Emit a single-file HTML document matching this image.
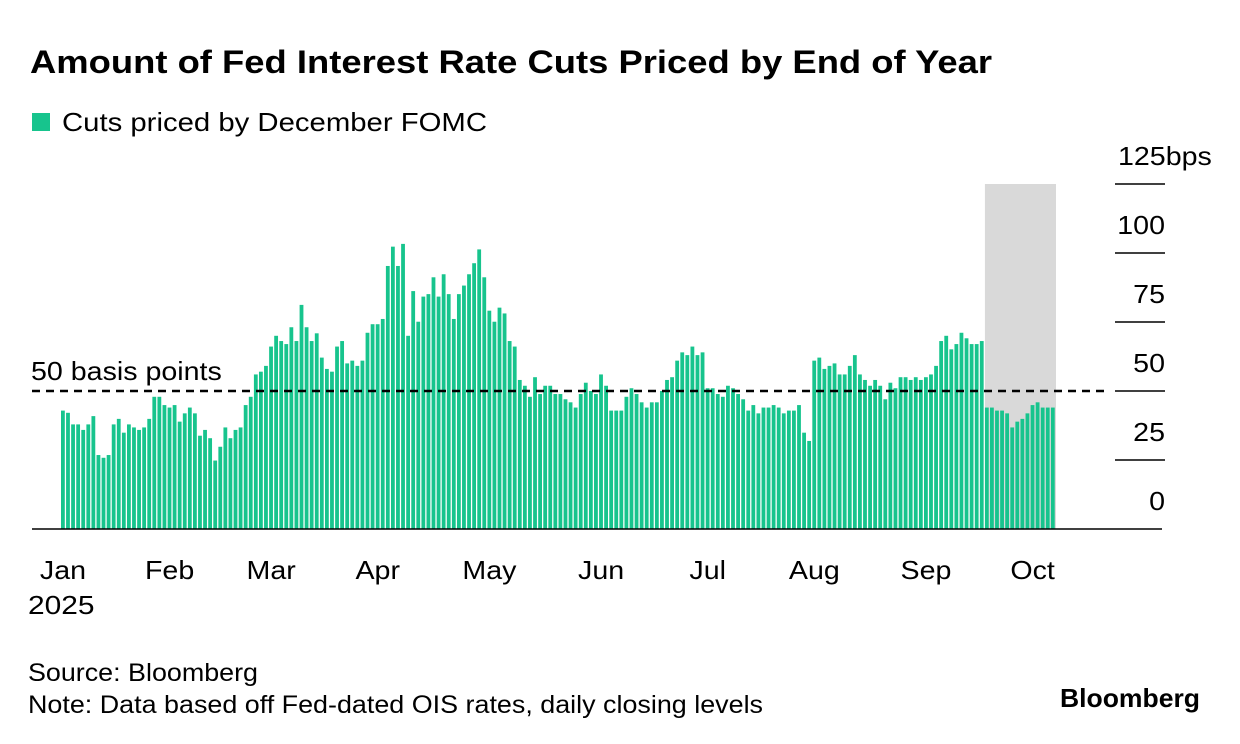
<!DOCTYPE html>
<html><head><meta charset="utf-8">
<style>
body{margin:0;background:#fff;width:1240px;height:744px;overflow:hidden;font-family:"Liberation Sans",Arial,sans-serif;color:#000}
svg{position:absolute;left:0;top:0}
</style></head><body>
<svg width="1240" height="744">
<text x="30" y="73" font-size="32" font-weight="bold" textLength="962" lengthAdjust="spacingAndGlyphs">Amount of Fed Interest Rate Cuts Priced by End of Year</text>
<rect x="32" y="113" width="18" height="18" fill="#17c48d"/>
<text x="62" y="131" font-size="26" textLength="425" lengthAdjust="spacingAndGlyphs">Cuts priced by December FOMC</text>
<g id="plot"></g>
<text x="28" y="681" font-size="25" textLength="230" lengthAdjust="spacingAndGlyphs">Source: Bloomberg</text>
<text x="28" y="713" font-size="25" textLength="735" lengthAdjust="spacingAndGlyphs">Note: Data based off Fed-dated OIS rates, daily closing levels</text>
<text x="1060" y="707" font-size="26" font-weight="bold" textLength="140" lengthAdjust="spacingAndGlyphs">Bloomberg</text>
</svg>
<script>
const values=[42.9,42.1,37.9,37.9,35.9,37.9,40.9,26.8,25.8,26.8,37.9,39.9,34.9,37.9,36.8,35.9,36.8,39.9,47.9,47.9,44.9,44.0,44.9,38.9,41.9,44.0,41.9,33.8,35.9,32.9,24.8,29.8,36.8,32.9,35.9,36.8,44.9,47.9,56.0,57.0,59.1,66.1,70.0,68.1,67.0,73.1,68.1,81.2,73.1,68.1,
70.9,62.1,58.0,57.0,66.1,68.1,60.0,61.0,59.1,61.0,71.1,74.2,74.2,76.1,95.3,102.3,95.3,103.3,70.0,86.2,75.1,84.2,85.1,91.2,84.2,92.3,85.1,76.1,85.1,88.2,92.3,96.3,101.3,91.2,79.1,75.1,80.2,78.1,68.1,66.1,54.0,51.9,47.9,55.0,48.9,51.9,51.9,48.9,48.9,
47.0,45.9,44.0,48.9,53.0,50.0,48.9,56.0,51.9,42.9,42.9,42.9,47.9,51.0,48.9,45.9,44.0,45.9,45.9,50.0,54.0,55.0,61.0,64.0,63.0,66.1,63.0,64.0,51.0,51.0,48.9,47.9,51.9,51.0,48.9,47.0,42.9,44.9,41.9,44.0,44.0,44.9,44.0,41.9,42.9,42.9,44.9,34.9,31.9,61.0,
62.1,58.0,59.1,60.0,56.0,56.0,59.1,63.0,56.0,54.0,51.9,54.0,51.9,47.0,53.0,51.0,55.0,55.0,54.0,55.0,54.0,55.0,56.0,59.1,68.1,70.0,65.1,67.0,71.1,69.1,67.0,67.0,68.1,44.0,44.0,42.9,42.9,41.9,36.8,38.9,39.9,41.9,44.9,45.9,44.0,44.0,44.0];
const monthLabels=["Jan","Feb","Mar","Apr","May","Jun","Jul","Aug","Sep","Oct"];
const monthIndex=[0,21,41,62,84,106,127,148,170,191];
const yTicks=[0,25,50,75,100,125];
const shadeStart=182;
const refLevel=50;

const NS="http://www.w3.org/2000/svg";
const g=document.getElementById('plot');
const x0=61,x1=1056,y0=529,yTop=184,yMax=125;
const pitch=(x1-x0)/values.length;
const xs=i=>x0+i*pitch;
const ys=v=>y0-v/yMax*(y0-yTop);
function mk(t,a){const e=document.createElementNS(NS,t);for(const k in a)e.setAttribute(k,a[k]);g.appendChild(e);return e;}
function widen(t,f){const w=t.getComputedTextLength();t.setAttribute('textLength',w*f);t.setAttribute('lengthAdjust','spacingAndGlyphs');}

const sh=mk('rect',{x:xs(shadeStart),y:yTop,width:x1-xs(shadeStart),height:y0-yTop,fill:'#d9d9d9'});



values.forEach((v,i)=>{
 const r=mk('rect',{x:xs(i),y:ys(v),width:pitch*0.75,height:y0-ys(v),fill:'#17c48d'});
 
 
});

yTicks.forEach(t=>{
 const y=ys(t);
 if(t>0){const l=mk('line',{x1:1115,x2:1165,y1:y,y2:y,stroke:'#000','stroke-width':1.5});
 
 }
 const tx=mk('text',{x:t==yMax?1118:1165,y:y-19,'font-size':26,'text-anchor':t==yMax?'start':'end'});
 tx.textContent=t==yMax?t+'bps':String(t);
 
 
 widen(tx,1.1);
});

const ax=mk('line',{x1:32,x2:1162,y1:y0,y2:y0,stroke:'#000','stroke-width':1.5});



const dl=mk('line',{x1:32,x2:1110,y1:ys(refLevel),y2:ys(refLevel),stroke:'#000','stroke-width':2.5,'stroke-dasharray':'8 6'});


const dt=mk('text',{x:31,y:ys(refLevel)-11,'font-size':26});
dt.textContent=refLevel+' basis points';


widen(dt,1.1);

monthLabels.forEach((m,k)=>{
 const t=mk('text',{x:xs(monthIndex[k])+2,y:579,'font-size':26,'text-anchor':'middle'});
 t.textContent=m;
 
 
 widen(t,1.1);
});
const yr=mk('text',{x:28,y:614,'font-size':26});
yr.textContent='2025';


widen(yr,1.15);
</script>
</body></html>
